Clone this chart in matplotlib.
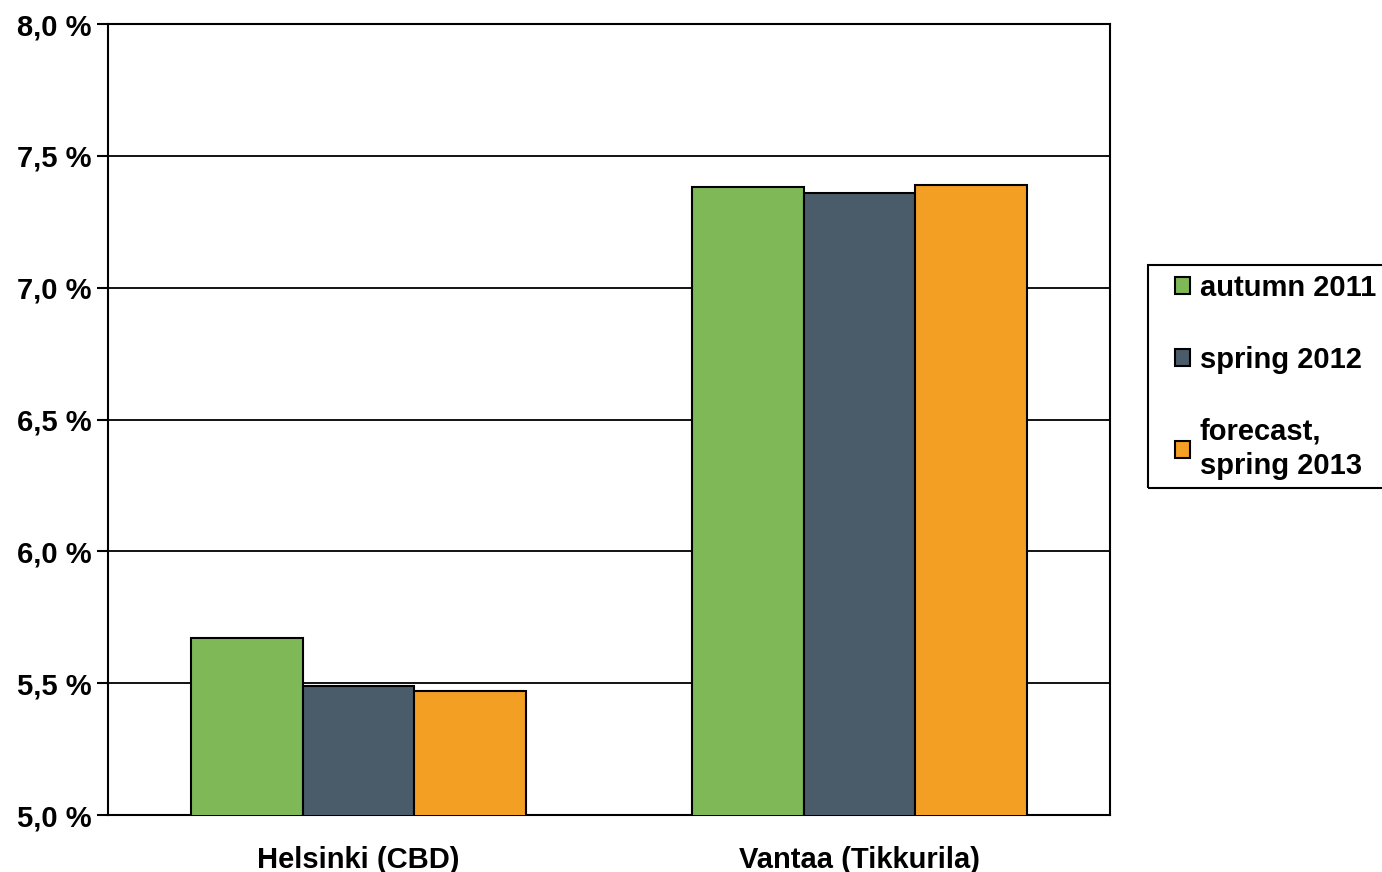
import numpy as np
import matplotlib
matplotlib.use("Agg")
import matplotlib.pyplot as plt
from matplotlib.patches import Rectangle
from matplotlib.ticker import FuncFormatter

plt.rcParams['font.family'] = ['Liberation Sans', 'DejaVu Sans']
plt.rcParams['font.weight'] = 'bold'

categories = ["Helsinki (CBD)", "Vantaa (Tikkurila)"]
series_names = ["autumn 2011", "spring 2012", "forecast,\nspring 2013"]
autumn_2011 = [5.67, 7.38]
spring_2012 = [5.49, 7.36]
forecast_2013 = [5.47, 7.39]
colors = ["#7EB857", "#4A5C6A", "#F39F24"]

W, H = 1382, 872
fig = plt.figure(figsize=(W / 100, H / 100), dpi=100)
ax = fig.add_axes([108 / W, 1 - 815 / H, (1110 - 108) / W, (815 - 24) / H])

x = np.arange(len(categories))
width = 0.223
for i, vals in enumerate([autumn_2011, spring_2012, forecast_2013]):
    ax.bar(x + (i - 1) * width, vals, width, bottom=0, color=colors[i],
           edgecolor="black", linewidth=1.5, label=series_names[i], zorder=3)

ax.set_xlim(-0.5, 1.5)
ax.set_ylim(5.0, 8.0)
ax.set_yticks(np.arange(5.0, 8.01, 0.5))
ax.yaxis.set_major_formatter(FuncFormatter(lambda v, p: f"{v:.1f} %".replace(".", ",")))
ax.grid(axis="y", color="black", linewidth=1.3, zorder=0)
ax.set_xticks(x)
ax.set_xticklabels(categories, fontsize=21, fontweight="bold")
ax.tick_params(axis="x", length=0, pad=22)
ax.tick_params(axis="y", length=8, width=1.5, labelsize=21, pad=4)
for s in ax.spines.values():
    s.set_linewidth(1.5)
    s.set_color("black")

# legend without its own frame, frame drawn as a rectangle (runs off the right edge)
leg = ax.legend(loc="upper left", bbox_to_anchor=(1175 / W, 1 - 274 / H),
                bbox_transform=fig.transFigure, frameon=False,
                prop={"weight": "bold", "size": 21},
                handlelength=0.5, handleheight=0.5, handletextpad=0.35,
                labelspacing=1.5, borderpad=0, borderaxespad=0)
for t in leg.get_texts():
    t.set_linespacing(1.3)
for p in leg.get_patches():
    p.set_linewidth(1.5)
fig.patches.append(Rectangle((1148 / W, 1 - 488 / H), 260 / W, (488 - 265) / H,
                             transform=fig.transFigure, fill=False,
                             edgecolor="black", linewidth=1.5))

fig.savefig("out.png", dpi=100)
